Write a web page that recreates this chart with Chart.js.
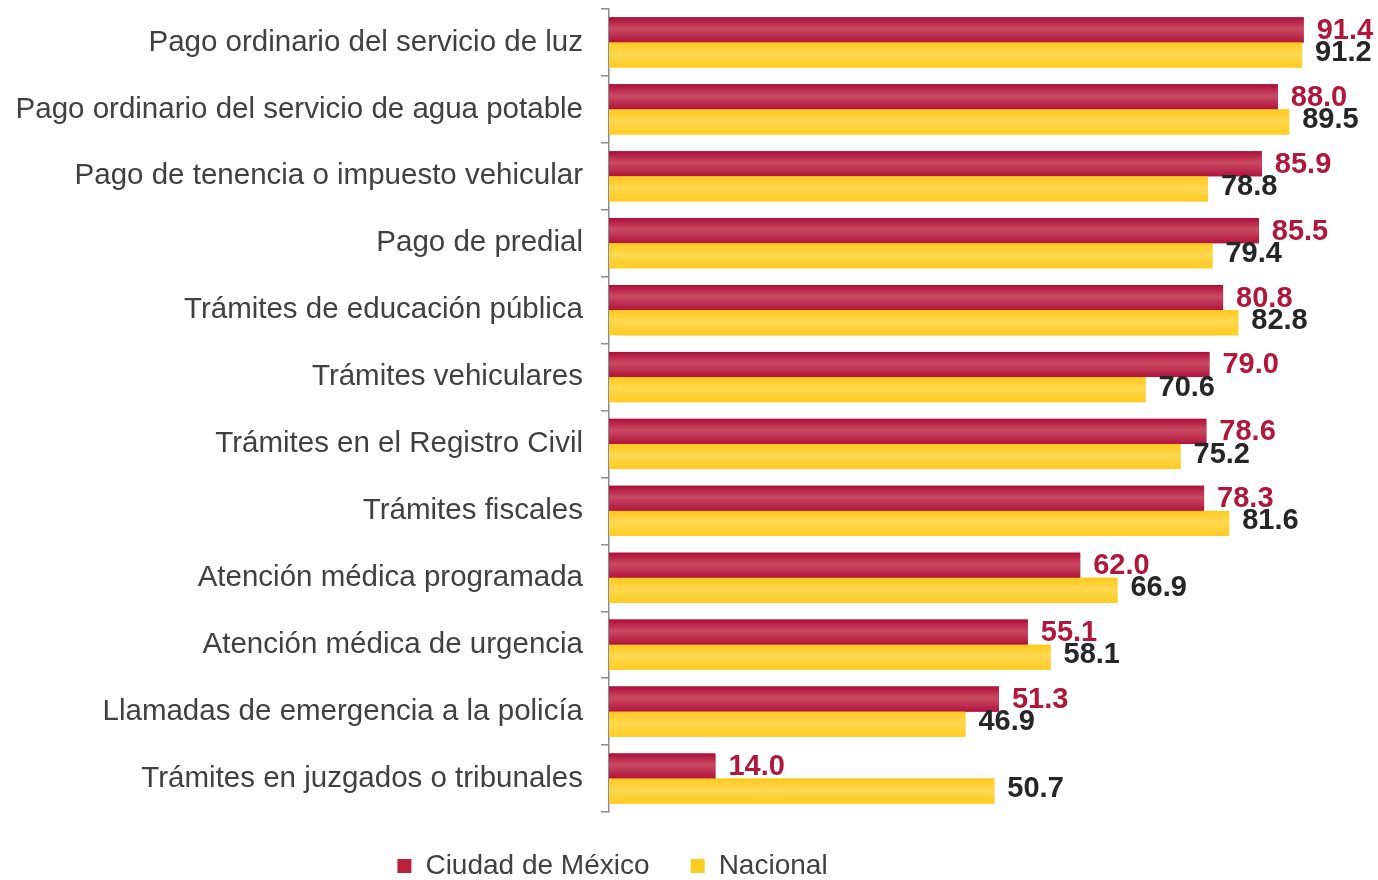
<!DOCTYPE html>
<html>
<head>
<meta charset="utf-8">
<script src="https://cdn.jsdelivr.net/npm/chart.js@4"></script>
<style>
  html, body { margin: 0; padding: 0; background: #fff; }
  #wrap { width: 1378px; height: 880px; }
</style>
</head>
<body>
<div id="wrap"><canvas id="myChart"></canvas></div>
<script>
const categorias = [
  'Pago ordinario del servicio de luz',
  'Pago ordinario del servicio de agua potable',
  'Pago de tenencia o impuesto vehicular',
  'Pago de predial',
  'Trámites de educación pública',
  'Trámites vehiculares',
  'Trámites en el Registro Civil',
  'Trámites fiscales',
  'Atención médica programada',
  'Atención médica de urgencia',
  'Llamadas de emergencia a la policía',
  'Trámites en juzgados o tribunales'
];
const cdmx = [91.4, 88.0, 85.9, 85.5, 80.8, 79.0, 78.6, 78.3, 62.0, 55.1, 51.3, 14.0];
const nacional = [91.2, 89.5, 78.8, 79.4, 82.8, 70.6, 75.2, 81.6, 66.9, 58.1, 46.9, 50.7];

const fuente = '"Liberation Sans", Arial, sans-serif';

// brillo de las barras: oscuro arriba y abajo, claro en medio
const gradientes = [
  ['#ad0d37', '#c94a63', '#b0143c'],
  ['#ffc81c', '#ffd850', '#ffcb22']
];
const colorEtiqueta = ['#b1173d', '#262626'];
const desplazaEtiqueta = [1, -2];

const barrasYEtiquetas = {
  id: 'barrasYEtiquetas',
  afterLayout(chart) {
    // recorre la leyenda hacia la izquierda y un poco abajo, como en la imagen
    const lg = chart.legend;
    lg.right = 1225;
    lg.top += 10;
    lg.bottom += 10;
  },
  afterDatasetsDraw(chart) {
    const ctx = chart.ctx;
    ctx.save();
    chart.data.datasets.forEach((ds, i) => {
      const meta = chart.getDatasetMeta(i);
      meta.data.forEach((bar, j) => {
        const {x, y, base, height} = bar.getProps(['x', 'y', 'base', 'height'], true);
        const top = y - height / 2;
        const g = ctx.createLinearGradient(0, top, 0, top + height);
        g.addColorStop(0, gradientes[i][0]);
        g.addColorStop(0.45, gradientes[i][1]);
        g.addColorStop(1, gradientes[i][2]);
        ctx.fillStyle = g;
        ctx.fillRect(base, top, x - base, height);

        ctx.font = 'bold 29px ' + fuente;
        ctx.fillStyle = colorEtiqueta[i];
        ctx.textAlign = 'left';
        ctx.textBaseline = 'middle';
        ctx.fillText(ds.data[j].toFixed(1), x + 13, y + desplazaEtiqueta[i]);
      });
    });
    ctx.restore();
  }
};

const chart = new Chart(document.getElementById('myChart'), {
  type: 'bar',
  data: {
    labels: categorias,
    datasets: [
      {
        label: 'Ciudad de México',
        data: cdmx,
        backgroundColor: '#b8223f',
        categoryPercentage: 0.75,
        barPercentage: 1
      },
      {
        label: 'Nacional',
        data: nacional,
        backgroundColor: '#ffcd22',
        categoryPercentage: 0.75,
        barPercentage: 1
      }
    ]
  },
  options: {
    indexAxis: 'y',
    responsive: true,
    maintainAspectRatio: false,
    animation: false,
    layout: { padding: { top: 9, right: 9, left: 0, bottom: 0 } },
    scales: {
      x: {
        min: 0,
        max: 100,
        ticks: { display: false },
        grid: { display: false },
        border: { display: false },
        afterFit(scale) { scale.height = 20; }
      },
      y: {
        ticks: {
          color: '#404040',
          font: { family: fuente, size: 29.5 },
          padding: 18
        },
        grid: {
          display: true,
          drawOnChartArea: false,
          tickLength: 8,
          color: '#8c8c8c',
          lineWidth: 1.5
        },
        border: { display: true, color: '#8c8c8c', width: 1.5 },
        afterFit(scale) {
          scale.width = 609;
          scale.paddingTop = 0;
          scale.paddingBottom = 0;
        }
      }
    },
    plugins: {
      legend: {
        position: 'bottom',
        labels: {
          boxWidth: 14,
          boxHeight: 14,
          padding: 10,
          color: '#404040',
          font: { family: fuente, size: 28 },
          generateLabels(chart) {
            const items = Chart.defaults.plugins.legend.labels.generateLabels(chart);
            items[0].text += '    ';
            items.forEach((it, k) => { it.fillStyle = k === 0 ? '#b8223f' : '#ffcd22'; it.lineWidth = 0; });
            return items;
          }
        }
      },
      tooltip: { enabled: false }
    }
  },
  plugins: [barrasYEtiquetas]
});
</script>
</body>
</html>
